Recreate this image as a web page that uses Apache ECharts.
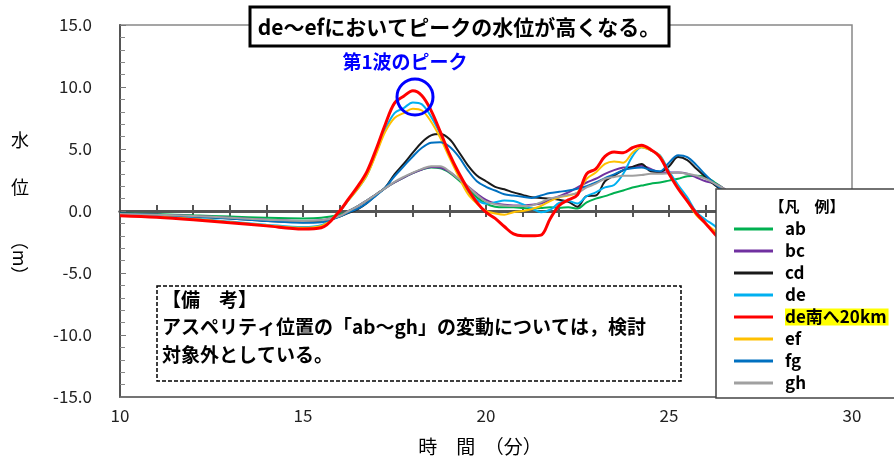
<!DOCTYPE html>
<html><head><meta charset="utf-8">
<script src="https://cdn.jsdelivr.net/npm/echarts@6/dist/echarts.min.js"></script>
<style>html,body{margin:0;padding:0;background:#fff}#c{width:894px;height:457px}</style>
</head><body><div id="c"></div>
<script>
// time (minutes)
const times = [10,11,12,13,14,15,15.5,16,16.25,16.5,16.75,17,17.25,17.5,17.75,18,18.25,18.5,18.75,19,19.25,19.5,19.75,20,20.25,20.5,20.75,21,21.25,21.5,21.75,22,22.25,22.5,22.75,23,23.25,23.5,23.75,24,24.25,24.5,24.75,25,25.25,25.5,25.75,26,26.25,26.5,27];
const seriesNames = ['ab','bc','cd','de','de南へ20km','ef','fg','gh'];
const seriesColors = ['#00b050','#7030a0','#1a1a1a','#00b0f0','#ff0000','#ffc000','#0070c0','#a0a0a0'];
const ab = [-0.2,-0.25,-0.35,-0.45,-0.55,-0.6,-0.55,-0.3,0.0,0.4,0.85,1.35,1.85,2.3,2.7,3.05,3.35,3.5,3.45,3.1,2.5,1.8,1.1,0.6,0.35,0.3,0.3,0.25,0.2,0.25,0.3,0.25,0.3,0.2,0.7,1.0,1.2,1.45,1.65,1.9,2.05,2.2,2.3,2.45,2.6,2.8,2.85,2.75,2.3,1.8,0.6];
const bc = [-0.25,-0.3,-0.4,-0.55,-0.7,-0.8,-0.75,-0.4,0.0,0.4,0.85,1.35,1.85,2.3,2.7,3.05,3.35,3.55,3.5,3.15,2.6,2.0,1.4,0.9,0.6,0.5,0.45,0.45,0.5,0.6,0.9,1.2,1.5,1.9,2.3,2.6,3.0,3.3,3.5,3.55,3.65,3.4,3.1,3.1,3.1,3.0,2.7,2.4,2.2,1.8,0.6];
const cd = [-0.2,-0.3,-0.45,-0.6,-0.8,-0.9,-0.85,-0.45,-0.15,0.15,0.65,1.3,1.9,2.95,3.8,4.7,5.55,6.1,6.2,5.8,4.8,3.7,2.86,2.4,1.95,1.75,1.5,1.3,1.1,1.05,1.0,0.9,0.75,0.35,1.2,1.25,2.4,2.85,3.3,3.55,3.8,3.2,3.15,3.6,4.35,4.1,3.4,2.75,2.1,1.5,0.0];
const de = [-0.3,-0.42,-0.6,-0.85,-1.1,-1.3,-1.15,-0.05,0.9,1.8,2.9,4.7,6.6,7.9,8.3,8.75,8.6,7.6,6.2,4.5,2.9,1.6,0.9,0.6,0.7,0.85,0.8,0.55,0.2,-0.1,0.1,0.65,0.8,0.6,1.2,1.5,1.9,2.1,3.0,4.4,5.15,4.9,4.5,3.2,2.1,1.1,-0.1,-0.7,-1.2,-1.9,-3.3];
const deSouth20 = [-0.38,-0.5,-0.7,-0.95,-1.2,-1.45,-1.35,0.0,1.0,2.0,3.2,5.0,7.0,8.7,9.25,9.7,9.3,8.1,6.4,4.6,3.1,1.8,0.7,-0.1,-0.6,-1.25,-1.85,-2.0,-2.0,-1.95,-0.65,0.45,0.9,1.3,3.0,3.4,4.4,4.75,4.7,5.1,5.3,4.95,4.35,3.0,1.8,0.8,-0.2,-1.0,-1.85,-2.6,-4.0];
const ef = [-0.35,-0.45,-0.65,-0.9,-1.15,-1.35,-1.2,0.0,0.9,1.8,2.9,4.6,6.4,7.5,7.9,8.25,8.1,7.2,5.9,4.3,2.8,1.4,0.6,0.0,-0.2,-0.3,-0.1,0.0,0.15,0.4,0.8,1.1,1.25,1.5,2.6,3.1,3.8,4.0,3.9,4.7,5.15,4.9,4.45,3.0,1.9,0.8,-0.35,-1.0,-1.6,-2.3,-3.7];
const fg = [-0.2,-0.3,-0.45,-0.6,-0.8,-0.95,-0.9,-0.45,-0.1,0.2,0.65,1.25,1.9,2.8,3.6,4.4,5.1,5.5,5.55,5.2,4.4,3.3,2.4,1.95,1.65,1.35,1.25,1.15,1.05,1.25,1.45,1.55,1.65,1.8,2.0,2.3,2.65,2.95,3.3,3.45,3.5,3.3,3.2,3.9,4.5,4.35,3.7,2.9,2.2,1.6,0.2];
const gh = [-0.25,-0.3,-0.4,-0.55,-0.7,-0.8,-0.75,-0.4,0.0,0.4,0.85,1.35,1.85,2.35,2.75,3.1,3.4,3.6,3.6,3.2,2.6,2.0,1.3,0.75,0.55,0.45,0.4,0.4,0.45,0.7,1.0,1.15,1.3,1.45,1.9,2.2,2.6,2.75,2.85,2.85,2.9,3.0,3.0,3.05,3.1,3.0,2.85,2.6,2.2,1.8,0.6];
const seriesValues = [ab, bc, cd, de, deSouth20, ef, fg, gh];
const xTickLabels = [10,15,20,25,30];
const yTickLabels = [-15,-10,-5,0,5,10,15];

const FONT = '"Noto Sans CJK JP", "Noto Sans", sans-serif';
const chart = echarts.init(document.getElementById('c'), null, {renderer:'canvas'});

const series = seriesNames.map((n, i) => ({
  name: n, type: 'line', xAxisIndex: 0, yAxisIndex: 0,
  data: times.map((t, k) => [t, seriesValues[i][k]]),
  showSymbol: false, symbol: 'none', smooth: 0.35,
  z: n === 'de南へ20km' ? 4 : 3,
  itemStyle: {color: seriesColors[i]},
  lineStyle: {color: seriesColors[i], width: n === 'de南へ20km' ? 3 : 2},
  silent: true
}));

const txt = (x, y, text, size, opts) => Object.assign({
  type: 'text', x: x, y: y, z: 100,
  style: Object.assign({text: text, fontFamily: FONT, fontSize: size, fontWeight: 'normal',
    fill: '#000', align: 'left', verticalAlign: 'middle'}, opts || {})
});

chart.setOption({
  animation: false,
  textStyle: {fontFamily: FONT},
  grid: {left: 120, right: 42, top: 25, bottom: 60, show: true, borderColor: '#888', borderWidth: 1.5, backgroundColor: 'transparent'},
  xAxis: [
    {type: 'value', min: 10, max: 30, interval: 5, position: 'bottom',
     axisLine: {onZero: false, lineStyle: {color: '#666', width: 1.5}},
     axisTick: {show: false}, splitLine: {show: false},
     axisLabel: {fontSize: 17, color: '#222', margin: 10, fontFamily: FONT,
       formatter: v => xTickLabels.includes(v) ? String(v) : ''}},
    {type: 'value', min: 10, max: 30, interval: 1, position: 'bottom',
     axisLine: {onZero: true, onZeroAxisIndex: 0, lineStyle: {color: '#555', width: 3}},
     axisTick: {show: true, inside: true, length: 6, lineStyle: {color: '#555', width: 2}},
     axisLabel: {show: false}, splitLine: {show: false}},
    {type: 'value', min: 10, max: 30, interval: 1, position: 'bottom',
     axisLine: {onZero: true, onZeroAxisIndex: 0, lineStyle: {color: '#555', width: 3}},
     axisTick: {show: true, inside: false, length: 6, lineStyle: {color: '#555', width: 2}},
     axisLabel: {show: false}, splitLine: {show: false}}
  ],
  yAxis: [{type: 'value', min: -15, max: 15, interval: 5, position: 'left',
    axisLine: {show: true, onZero: false, lineStyle: {color: '#555', width: 2}},
    axisTick: {show: true, inside: true, length: 6, lineStyle: {color: '#777', width: 1}},
    minorTick: {show: true, splitNumber: 5, length: 5, lineStyle: {color: '#888', width: 1}},
    splitLine: {show: false},
    axisLabel: {fontSize: 17, color: '#222', margin: 28, fontFamily: FONT,
      formatter: v => yTickLabels.includes(v) ? v.toFixed(1) : ''}}],
  legend: {
    data: seriesNames, orient: 'vertical', left: 729, top: 215, z: 120,
    itemWidth: 39, itemHeight: 3, itemGap: 4, icon: 'rect', selectedMode: false,
    formatter: n => n === 'de南へ20km' ? '{sp| }{hl|' + n + '}' : '{sp| }{t|' + n + '}',
    textStyle: {fontSize: 17, fontWeight: 'bold', color: '#000', fontFamily: FONT, lineHeight: 18,
      rich: {
        sp: {width: 7, fontSize: 17, lineHeight: 18},
        t: {fontSize: 17, fontWeight: 'bold', color: '#000', fontFamily: FONT, lineHeight: 18},
        hl: {fontSize: 17, fontWeight: 'bold', color: '#000', fontFamily: FONT, lineHeight: 17, backgroundColor: '#ffff00', padding: [0, 2, 0, 0]}
      }}
  },
  graphic: [
    // legend box
    {type: 'rect', z: 90, shape: {x: 716, y: 189, width: 200, height: 209},
     style: {fill: '#fff', stroke: '#444', lineWidth: 1.5}},
    txt(807, 206, '【凡　例】', 15, {fontWeight: 'bold', align: 'center'}),
    // title box
    {type: 'rect', z: 90, shape: {x: 250, y: 7, width: 419, height: 39},
     style: {fill: '#fff', stroke: '#000', lineWidth: 3}},
    txt(459, 27, 'de～efにおいてピークの水位が高くなる。', 21, {fontWeight: 'bold', align: 'center'}),
    // first wave peak annotation
    txt(405, 62, '第1波のピーク', 19, {fontWeight: 'bold', align: 'center', fill: '#0000ff'}),
    {type: 'circle', z: 95, shape: {cx: 415, cy: 97, r: 18},
     style: {fill: 'none', stroke: '#0000ff', lineWidth: 3}},
    // remarks box
    {type: 'rect', z: 90, shape: {x: 157, y: 286, width: 524, height: 95},
     style: {fill: '#fff', stroke: '#000', lineWidth: 1.5, lineDash: [4, 2]}},
    txt(162, 300, '【備　考】', 19, {fontWeight: 'bold'}),
    txt(162, 327, 'アスペリティ位置の「ab～gh」の変動については，検討', 19, {fontWeight: 'bold'}),
    txt(162, 355, '対象外としている。', 19, {fontWeight: 'bold'}),
    // axis names
    txt(20, 140, '水', 18, {align: 'center'}),
    txt(20, 187, '位', 18, {align: 'center'}),
    {type: 'text', z: 100, x: 20, y: 258, rotation: -Math.PI / 2,
     style: {text: '（m）', fontFamily: FONT, fontSize: 18, fill: '#000', align: 'center', verticalAlign: 'middle'}},
    txt(480, 447, '時　間　（分）', 19, {align: 'center'})
  ],
  series: series
});
</script></body></html>
